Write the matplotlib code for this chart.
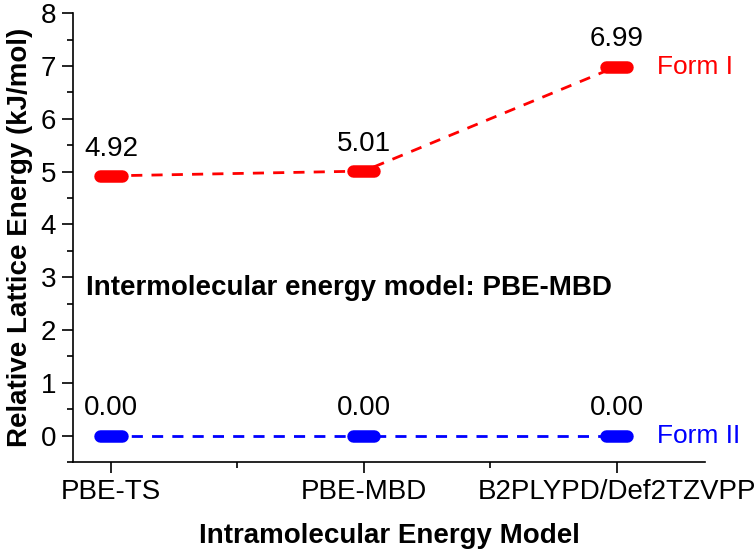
import numpy as np
import matplotlib.pyplot as plt

# data
methods = ["PBE-TS", "PBE-MBD", "B2PLYPD/Def2TZVPP"]
form1 = [4.92, 5.01, 6.99]
form2 = [0.00, 0.00, 0.00]

plt.rcParams['font.family'] = ['Liberation Sans', 'DejaVu Sans']

fig = plt.figure(figsize=(7.56, 5.51), dpi=100)
ax = fig.add_axes([0.0966, 0.1615, 0.836, 0.8145])

xs = np.arange(1, len(methods) + 1)
half = 0.042  # half width of the flat bar markers

for vals, col, name in [(form1, 'red', 'Form I'), (form2, 'blue', 'Form II')]:
    ax.plot(xs, vals, ls=(0, (4, 3.3)), color=col, lw=2)
    for x, v in zip(xs, vals):
        ax.plot([x - half, x + half], [v, v], color=col, lw=9, solid_capstyle='round')
        ax.text(x, v + 0.27, f"{v:.2f}", ha='center', va='bottom', fontsize=20)
    ax.text(xs[-1] + 0.16, vals[-1], name, color=col, ha='left', va='center', fontsize=19)

ax.text(0.9, 2.8, "Intermolecular energy model: PBE-MBD", fontsize=20,
        fontweight='bold', va='center')

ax.set_xlim(0.85, 3.35)
ax.set_ylim(-0.5, 8)
ax.set_xticks(xs)
ax.set_xticklabels(methods)
ax.set_xticks([1.5, 2.5], minor=True)
ax.set_yticks(range(0, 9))
ax.set_yticks(np.arange(-0.5, 8, 0.5), minor=True)

for s in ['top', 'right']:
    ax.spines[s].set_visible(False)
for s in ['left', 'bottom']:
    ax.spines[s].set_linewidth(1.2)
ax.tick_params(which='major', direction='out', length=8, width=1.2, labelsize=20, pad=4)
ax.tick_params(which='minor', direction='out', length=4, width=1.2)

ax.set_xlabel("Intramolecular Energy Model", fontsize=20, fontweight='bold', labelpad=13)
ax.set_ylabel("Relative Lattice Energy (kJ/mol)", fontsize=20, fontweight='bold', labelpad=6)

fig.savefig("out.png", dpi=100)
